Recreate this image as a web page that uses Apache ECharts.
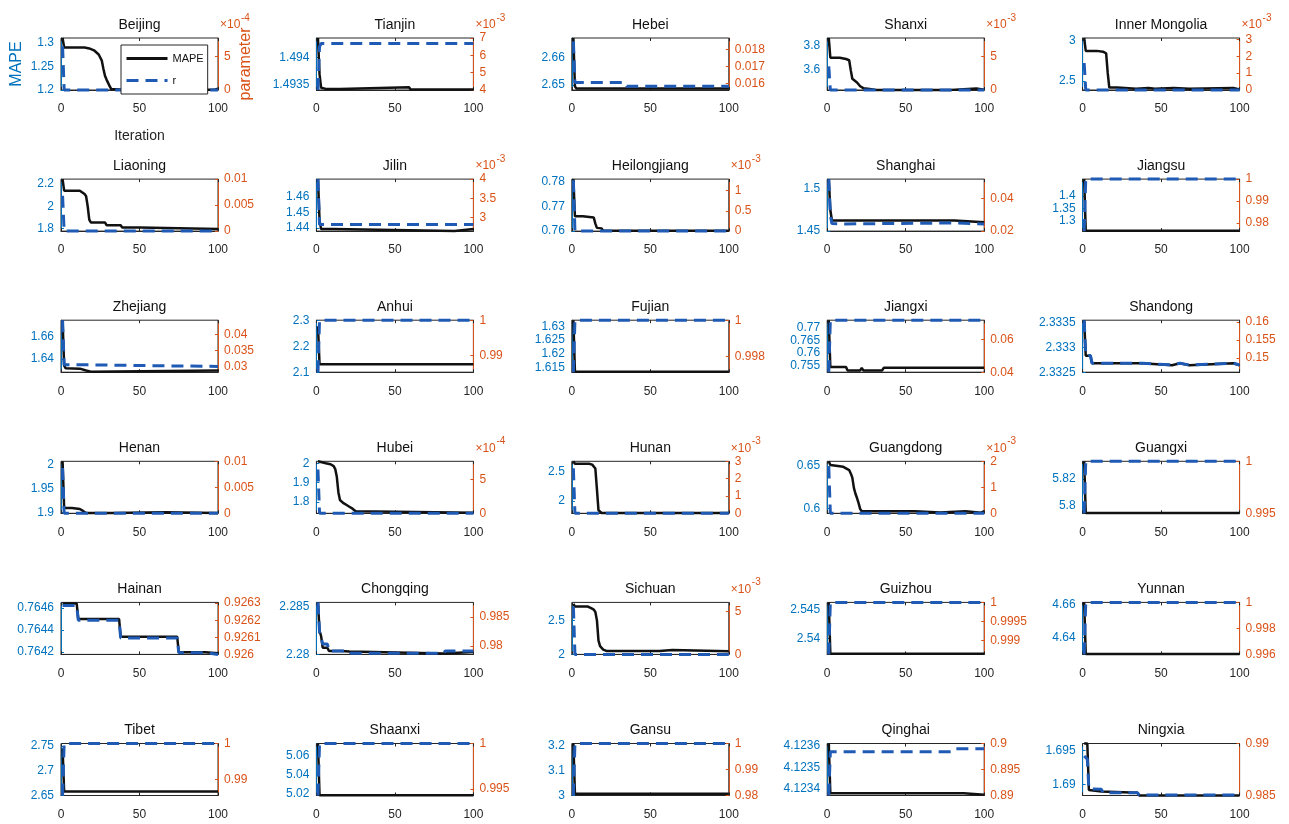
<!DOCTYPE html>
<html><head><meta charset="utf-8">
<script src="https://cdn.jsdelivr.net/npm/echarts@6/dist/echarts.min.js"></script>
<style>html,body{margin:0;padding:0;background:#fff}#c{width:1289px;height:824px}</style>
</head><body><div id="c"></div>
<script>
// ---------------- DATA ----------------
const provinces = ['Beijing','Tianjin','Hebei','Shanxi','Inner Mongolia','Liaoning','Jilin','Heilongjiang','Shanghai','Jiangsu',
  'Zhejiang','Anhui','Fujian','Jiangxi','Shandong','Henan','Hubei','Hunan','Guangdong','Guangxi',
  'Hainan','Chongqing','Sichuan','Guizhou','Yunnan','Tibet','Shaanxi','Gansu','Qinghai','Ningxia'];

const xTicks = [0, 50, 100];

// left axis (MAPE) limits and tick values
const mapeRange = [[1.2,1.31],[1.49341,1.49436],[2.6482,2.6671],[3.44,3.859],[2.39,3.028],
  [1.777,2.244],[1.4379,1.4716],[0.76,0.781],[1.45,1.5115],[1.258,1.468],
  [1.628,1.6752],[2.1,2.3],[1.6134,1.6322],[0.7525,0.7729],[2.3325,2.33354],
  [1.898,2.0073],[1.741,2.01],[1.789,2.672],[0.594,0.6553],[5.7944,5.8332],
  [0.76418,0.76465],[2.28,2.28543],[2,2.76],[2.53717,2.54633],[4.6295,4.6615],
  [2.65,2.7546],[5.0183,5.0722],[3.0,3.209],[4.12337,4.12361],[1.6884,1.696]];
const mapeTicks = [[1.2,1.25,1.3],[1.4935,1.494],[2.65,2.66],[3.6,3.8],[2.5,3],
  [1.8,2,2.2],[1.44,1.45,1.46],[0.76,0.77,0.78],[1.45,1.5],[1.3,1.35,1.4],
  [1.64,1.66],[2.1,2.2,2.3],[1.615,1.62,1.625,1.63],[0.755,0.76,0.765,0.77],[2.3325,2.333,2.3335],
  [1.9,1.95,2],[1.8,1.9,2],[2,2.5],[0.6,0.65],[5.8,5.82],
  [0.7642,0.7644,0.7646],[2.28,2.285],[2,2.5],[2.54,2.545],[4.64,4.66],
  [2.65,2.7,2.75],[5.02,5.04,5.06],[3,3.1,3.2],[4.1234,4.1235,4.1236],[1.69,1.695]];

// right axis (parameter r) limits, tick values and the exponent shown above the axis
const rRange = [[0,7.7e-4],[4e-3,7e-3],[0.0156,0.0187],[0,7.7e-3],[0,3.08e-3],
  [0,0.01],[2.64e-3,4e-3],[0,1.28e-3],[0.02,0.052],[0.9763,1],
  [0.0282,0.0445],[0.9852,1],[0.99713,1],[0.04,0.072],[0.1461,0.1605],
  [0,0.01],[0,7.72e-4],[0,3e-3],[0,2e-3],[0.995,1],
  [0.926,0.926304],[0.97853,0.98747],[0,6.08e-3],[0.99864,1],[0.996,1],
  [0.9855,1],[0.99426,1],[0.98,1],[0.89,0.9],[0.985,0.99]];
const rTicks = [[0,5e-4],[4e-3,5e-3,6e-3,7e-3],[0.016,0.017,0.018],[0,5e-3],[0,1e-3,2e-3,3e-3],
  [0,0.005,0.01],[3e-3,3.5e-3,4e-3],[0,0.5e-3,1e-3],[0.02,0.04],[0.98,0.99,1],
  [0.03,0.035,0.04],[0.99,1],[0.998,1],[0.04,0.06],[0.15,0.155,0.16],
  [0,0.005,0.01],[0,5e-4],[0,1e-3,2e-3,3e-3],[0,1e-3,2e-3],[0.995,1],
  [0.926,0.9261,0.9262,0.9263],[0.98,0.985],[0,5e-3],[0.999,0.9995,1],[0.996,0.998,1],
  [0.99,1],[0.995,1],[0.98,0.99,1],[0.89,0.895,0.9],[0.985,0.99]];
const rExponent = [-4,-3,0,-3,-3, 0,-3,-3,0,0, 0,0,0,0,0, 0,-4,-3,-3,0, 0,0,-3,0,0, 0,0,0,0,0];

// MAPE per iteration (breakpoints: [iteration, value])
const mapeData = [
  [[1,1.31],[2,1.29],[15,1.29],[18,1.288],[21,1.284],[24,1.275],[26,1.262],[27,1.245],[28,1.23],[29,1.222],[30,1.215],[31,1.208],[32,1.202],[40,1.2005],[98,1.2005],[99,1.203],[100,1.203]],
  [[1,1.49436],[2,1.4937],[3,1.49345],[6,1.49343],[7,1.49346],[9,1.49343],[15,1.49343],[16,1.49346],[59,1.49346],[60,1.49342],[100,1.49342]],
  [[1,2.6671],[2,2.6495],[3,2.6487],[100,2.6487]],
  [[1,3.859],[2,3.70],[8,3.70],[12,3.69],[14,3.68],[15,3.6],[16,3.53],[19,3.5],[21,3.47],[23,3.455],[27,3.448],[31,3.441],[79,3.441],[80,3.452],[95,3.452],[96,3.443],[100,3.443]],
  [[1,3.028],[2,2.87],[9,2.87],[10,2.86],[13,2.86],[14,2.85],[15,2.84],[16,2.6],[17,2.42],[22,2.42],[23,2.405],[34,2.405],[35,2.415],[42,2.415],[43,2.405],[46,2.405],[47,2.415],[58,2.415],[59,2.405],[68,2.405],[69,2.415],[96,2.415],[97,2.398],[100,2.398]],
  [[1,2.244],[2,2.14],[7,2.14],[8,2.13],[9,2.14],[12,2.14],[15,2.11],[16,2.09],[17,2.0],[18,1.88],[19,1.855],[28,1.855],[29,1.83],[38,1.83],[39,1.81],[50,1.81],[51,1.795],[100,1.795]],
  [[1,1.4716],[2,1.445],[3,1.4392],[11,1.4392],[12,1.438],[88,1.438],[89,1.4392],[100,1.4392]],
  [[1,0.781],[2,0.766],[7,0.766],[8,0.7655],[14,0.7655],[15,0.763],[16,0.7613],[19,0.7611],[20,0.7601],[100,0.7601]],
  [[1,1.5115],[2,1.475],[3,1.4625],[81,1.4625],[82,1.4605],[100,1.4605]],
  [[1,1.468],[2,1.259],[100,1.259]],
  [[1,1.6752],[2,1.634],[3,1.6315],[12,1.6312],[13,1.6305],[16,1.6295],[17,1.6285],[19,1.6285],[20,1.6295],[100,1.6295]],
  [[1,2.277],[2,2.131],[100,2.131]],
  [[1,1.6322],[2,1.6136],[100,1.6136]],
  [[1,0.7729],[2,0.7545],[12,0.7545],[13,0.7532],[21,0.7532],[22,0.7542],[23,0.7532],[35,0.7532],[36,0.7542],[100,0.7542]],
  [[1,2.33354],[2,2.33283],[5,2.33283],[6,2.33268],[38,2.33268],[39,2.33264],[57,2.33264],[58,2.33268],[62,2.33268],[63,2.33264],[68,2.33264],[69,2.33268],[96,2.33268],[97,2.33264],[100,2.33264]],
  [[1,2.0073],[2,1.909],[7,1.909],[8,1.908],[12,1.907],[13,1.905],[14,1.903],[15,1.9],[16,1.8985],[33,1.8985],[34,1.9],[66,1.9],[67,1.8985],[100,1.8985]],
  [[1,2.01],[2,2.0],[6,2.0],[9,1.995],[11,1.985],[12,1.97],[13,1.93],[14,1.85],[15,1.81],[17,1.795],[19,1.785],[21,1.775],[23,1.765],[25,1.752],[26,1.744],[100,1.744]],
  [[1,2.672],[2,2.63],[11,2.63],[13,2.615],[14,2.6],[15,2.55],[16,2.2],[17,1.84],[18,1.81],[19,1.795],[100,1.795]],
  [[1,0.6553],[2,0.651],[8,0.6495],[9,0.6475],[10,0.649],[11,0.6475],[12,0.647],[14,0.645],[15,0.641],[16,0.636],[17,0.624],[18,0.617],[19,0.612],[20,0.606],[21,0.599],[22,0.5965],[56,0.5965],[57,0.5948],[72,0.5948],[73,0.5965],[88,0.5965],[89,0.5948],[98,0.5948],[99,0.5965],[100,0.5965]],
  [[1,5.8332],[2,5.7946],[100,5.7946]],
  [[1,0.76464],[10,0.76464],[11,0.7645],[37,0.7645],[38,0.76434],[74,0.76434],[75,0.7642],[92,0.7642],[93,0.76419],[100,0.76419]],
  [[1,2.28543],[2,2.2825],[3,2.2819],[4,2.2807],[7,2.2807],[8,2.28036],[16,2.28036],[17,2.2803],[21,2.2803],[22,2.2801],[81,2.2801],[82,2.28025],[100,2.28025]],
  [[1,2.74],[2,2.70],[10,2.70],[12,2.68],[14,2.655],[15,2.62],[16,2.5],[17,2.2],[18,2.12],[20,2.07],[22,2.05],[56,2.05],[57,2.065],[64,2.065],[65,2.045],[100,2.045]],
  [[1,2.54633],[2,2.5373],[100,2.5373]],
  [[1,4.6615],[2,4.6297],[100,4.6297]],
  [[1,2.745],[2,2.658],[100,2.658]],
  [[1,5.0722],[2,5.0185],[100,5.0185]],
  [[1,3.209],[2,3.007],[100,3.007]],
  [[1,4.12361],[2,4.12338],[87,4.12338],[88,4.123373],[100,4.123373]],
  [[1,1.696],[3,1.696],[4,1.6892],[12,1.689],[13,1.6888],[35,1.6888],[36,1.6884],[100,1.6884]]
];

// parameter r per iteration ([iteration, value])
const rData = [
  [[1,6.5e-4],[2,0],[100,0]],
  [[1,4.0e-3],[2,6.5e-3],[3,6.68e-3],[100,6.68e-3]],
  [[1,0.0185],[2,0.01605],[34,0.01605],[35,0.01582],[100,0.01582]],
  [[1,3.5e-3],[2,0],[100,0]],
  [[1,1.6e-3],[2,0],[100,0]],
  [[1,0.0068],[2,0],[100,0]],
  [[1,4.0e-3],[2,2.81e-3],[100,2.81e-3]],
  [[1,1.25e-3],[2,0],[100,0]],
  [[1,0.052],[2,0.03],[3,0.0246],[12,0.0244],[13,0.025],[81,0.025],[82,0.0244],[100,0.0244]],
  [[1,0.9763],[2,1],[100,1]],
  [[1,0.0445],[2,0.0305],[17,0.0305],[18,0.03],[100,0.03]],
  [[1,0.9852],[2,1],[100,1]],
  [[1,0.99713],[2,1],[100,1]],
  [[1,0.04],[2,0.072],[100,0.072]],
  [[1,0.1605],[2,0.1507],[5,0.1507],[6,0.1486],[38,0.1486],[39,0.1481],[57,0.1481],[58,0.1486],[62,0.1486],[63,0.1481],[68,0.1481],[69,0.1486],[96,0.1486],[97,0.1481],[100,0.1481]],
  [[1,0.0087],[2,0],[100,0]],
  [[1,6.5e-4],[2,0],[100,0]],
  [[1,2.6e-3],[2,0],[100,0]],
  [[1,1.8e-3],[2,0],[100,0]],
  [[1,0.995],[2,1],[100,1]],
  [[1,0.926286],[10,0.926286],[11,0.9262],[37,0.9262],[38,0.926096],[74,0.926096],[75,0.92601],[92,0.92601],[93,0.926],[100,0.926]],
  [[1,0.98747],[2,0.9823],[3,0.9815],[4,0.9803],[7,0.9803],[8,0.97912],[21,0.97912],[22,0.97871],[81,0.97871],[82,0.97912],[100,0.97912]],
  [[1,5.6e-3],[2,0],[100,0]],
  [[1,0.99864],[2,1],[100,1]],
  [[1,0.996],[2,1],[100,1]],
  [[1,0.9855],[2,1],[100,1]],
  [[1,0.99426],[2,1],[100,1]],
  [[1,0.98],[2,1],[100,1]],
  [[1,0.89],[2,0.8984],[80,0.8984],[81,0.8987],[82,0.899],[100,0.899]],
  [[1,0.9888],[3,0.9885],[4,0.98565],[12,0.9856],[13,0.98526],[35,0.98526],[36,0.98506],[100,0.98506]]
];

// ---------------- LAYOUT / STYLE ----------------
const FONT = "'Liberation Sans', Arial, sans-serif";
const BLUE = '#0072BD', ORANGE = '#D95319', DARK = '#262626', RBLUE = '#1F5AB4';
const COL0 = 61, COLSTEP = 255.4, ROW0 = 38, ROWSTEP = 141.1, W = 157, H = 52;

function fmt(v, e) {
  const s = v / Math.pow(10, e);
  return String(parseFloat(s.toPrecision(8)));
}

const grids = [], xAxes = [], yAxes = [], series = [], graphics = [];
provinces.forEach((name, i) => {
  const row = Math.floor(i / 5), col = i % 5;
  const left = COL0 + COLSTEP * col, top = ROW0 + ROWSTEP * row;
  grids.push({left, top, width: W, height: H, show: true, borderColor: DARK, borderWidth: 1, backgroundColor: '#fff'});
  const bottomX = {
    gridIndex: i, type: 'value', position: 'bottom', min: 0, max: 100, interval: 50,
    axisLine: {show: true, onZero: false, lineStyle: {color: DARK, width: 1}},
    axisTick: {show: true, inside: true, length: 3, customValues: xTicks, lineStyle: {color: DARK}},
    axisLabel: {show: true, customValues: xTicks, margin: 13, fontSize: 12, color: DARK, fontFamily: FONT},
    splitLine: {show: false}
  };
  if (i === 0) {
    Object.assign(bottomX, {name: 'Iteration', nameLocation: 'middle', nameGap: 39,
      nameTextStyle: {fontSize: 14, color: DARK, fontFamily: FONT}});
  }
  xAxes.push(bottomX);
  xAxes.push({
    gridIndex: i, type: 'value', position: 'top', min: 0, max: 100, interval: 50,
    axisLine: {show: false, onZero: false},
    axisTick: {show: true, inside: true, length: 3, customValues: xTicks, lineStyle: {color: DARK}},
    axisLabel: {show: false}, splitLine: {show: false}
  });
  const leftY = {
    gridIndex: i, type: 'value', position: 'left', min: mapeRange[i][0], max: mapeRange[i][1],
    axisLine: {show: true, onZero: false, lineStyle: {color: BLUE, width: 1}},
    axisTick: {show: true, inside: true, length: 3, customValues: mapeTicks[i], lineStyle: {color: BLUE}},
    axisLabel: {show: true, customValues: mapeTicks[i], margin: 7, fontSize: 12, color: BLUE, fontFamily: FONT,
      formatter: v => fmt(v, 0)},
    splitLine: {show: false}
  };
  const e = rExponent[i];
  const rightY = {
    gridIndex: i, type: 'value', position: 'right', min: rRange[i][0], max: rRange[i][1],
    axisLine: {show: true, onZero: false, lineStyle: {color: ORANGE, width: 1}},
    axisTick: {show: true, inside: true, length: 3, customValues: rTicks[i], lineStyle: {color: ORANGE}},
    axisLabel: {show: true, customValues: rTicks[i], margin: 6, fontSize: 12, color: ORANGE, fontFamily: FONT,
      formatter: v => fmt(v, e)},
    splitLine: {show: false}
  };
  if (i === 0) {
    Object.assign(leftY, {name: 'MAPE', nameLocation: 'middle', nameGap: 36, nameRotate: 90,
      nameTextStyle: {fontSize: 16, color: BLUE, fontFamily: FONT}});
    Object.assign(rightY, {name: 'parameter', nameLocation: 'middle', nameGap: 20, nameRotate: 90,
      nameTextStyle: {fontSize: 16, color: ORANGE, fontFamily: FONT}});
  }
  yAxes.push(leftY, rightY);

  series.push({
    type: 'line', name: 'MAPE', xAxisIndex: 2 * i, yAxisIndex: 2 * i, data: mapeData[i],
    symbol: 'none', showSymbol: false, clip: false, z: 2, animation: false,
    lineStyle: {color: '#111', width: 2.5}, itemStyle: {color: '#111'}
  });
  series.push({
    type: 'line', name: 'r', xAxisIndex: 2 * i, yAxisIndex: 2 * i + 1, data: rData[i],
    symbol: 'none', showSymbol: false, clip: false, z: 3, animation: false,
    lineStyle: {color: RBLUE, width: 3, type: [12, 7]}, itemStyle: {color: RBLUE}
  });

  graphics.push({type: 'text', x: left + W / 2, y: top - 13, z: 10,
    style: {text: name, fill: '#111', fontSize: 14, fontFamily: FONT, align: 'center', verticalAlign: 'middle'}});
  if (e !== 0) {
    graphics.push({type: 'text', x: left + W + 2, y: top - 13, z: 10,
      style: {text: '\u00d710', fill: ORANGE, fontSize: 12, fontFamily: FONT, align: 'left', verticalAlign: 'middle'}});
    graphics.push({type: 'text', x: left + W + 23, y: top - 20, z: 10,
      style: {text: String(e), fill: ORANGE, fontSize: 10, fontFamily: FONT, align: 'left', verticalAlign: 'middle'}});
  }
});

const chart = echarts.init(document.getElementById('c'), null, {renderer: 'canvas'});
chart.setOption({
  animation: false,
  backgroundColor: '#fff',
  grid: grids, xAxis: xAxes, yAxis: yAxes, series,
  legend: {
    data: ['MAPE', 'r'], orient: 'vertical', left: 121, top: 45, selectedMode: false,
    backgroundColor: '#fff', borderColor: DARK, borderWidth: 1, padding: [8, 4, 8, 4],
    itemWidth: 41, itemHeight: 12, itemGap: 11, z: 20,
    itemStyle: {opacity: 0, borderWidth: 0},
    lineStyle: {width: 3},
    textStyle: {fontSize: 11, color: '#111', fontFamily: FONT}
  },
  graphic: graphics
});
</script></body></html>
